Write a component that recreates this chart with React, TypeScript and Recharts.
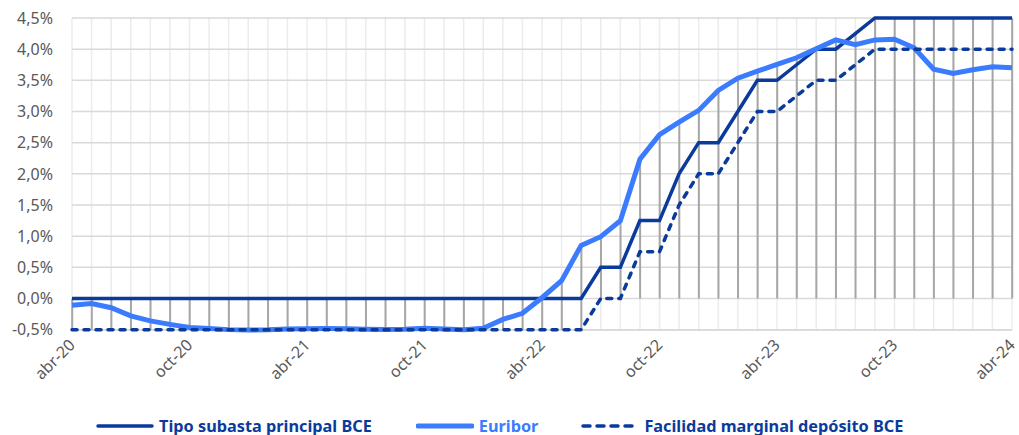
import {
  ComposedChart,
  Line,
  Bar,
  XAxis,
  YAxis,
  CartesianGrid,
  Legend,
} from "recharts";

const months = [
  "abr-20", "may-20", "jun-20", "jul-20", "ago-20", "sep-20", "oct-20", "nov-20", "dic-20",
  "ene-21", "feb-21", "mar-21", "abr-21", "may-21", "jun-21", "jul-21", "ago-21", "sep-21",
  "oct-21", "nov-21", "dic-21", "ene-22", "feb-22", "mar-22", "abr-22", "may-22", "jun-22",
  "jul-22", "ago-22", "sep-22", "oct-22", "nov-22", "dic-22", "ene-23", "feb-23", "mar-23",
  "abr-23", "may-23", "jun-23", "jul-23", "ago-23", "sep-23", "oct-23", "nov-23", "dic-23",
  "ene-24", "feb-24", "mar-24", "abr-24",
];

// Tipo subasta principal BCE
const subasta = [
  0, 0, 0, 0, 0, 0, 0, 0, 0,
  0, 0, 0, 0, 0, 0, 0, 0, 0,
  0, 0, 0, 0, 0, 0, 0, 0, 0,
  0.5, 0.5, 1.25, 1.25, 2.0, 2.5, 2.5, 3.0, 3.5,
  3.5, 3.75, 4.0, 4.0, 4.25, 4.5, 4.5, 4.5, 4.5,
  4.5, 4.5, 4.5, 4.5,
];

const euribor = [
  -0.108, -0.081, -0.147, -0.279, -0.359, -0.415, -0.466, -0.481, -0.499,
  -0.505, -0.501, -0.487, -0.484, -0.481, -0.484, -0.491, -0.498, -0.492,
  -0.477, -0.487, -0.502, -0.477, -0.335, -0.237, 0.013, 0.287, 0.852,
  0.992, 1.249, 2.233, 2.629, 2.828, 3.018, 3.337, 3.534, 3.647,
  3.757, 3.862, 4.007, 4.149, 4.073, 4.149, 4.16, 4.022, 3.679,
  3.609, 3.671, 3.718, 3.703,
];

// Facilidad marginal depósito BCE
const deposito = [
  -0.5, -0.5, -0.5, -0.5, -0.5, -0.5, -0.5, -0.5, -0.5,
  -0.5, -0.5, -0.5, -0.5, -0.5, -0.5, -0.5, -0.5, -0.5,
  -0.5, -0.5, -0.5, -0.5, -0.5, -0.5, -0.5, -0.5, -0.5,
  0, 0, 0.75, 0.75, 1.5, 2.0, 2.0, 2.5, 3.0,
  3.0, 3.25, 3.5, 3.5, 3.75, 4.0, 4.0, 4.0, 4.0,
  4.0, 4.0, 4.0, 4.0,
];

const yTicks = [-0.5, 0, 0.5, 1, 1.5, 2, 2.5, 3, 3.5, 4, 4.5];

const NAVY = "#0a3a9c";
const BLUE = "#3b7cff";
const FONT = "'Noto Sans', 'Open Sans', sans-serif";

const data = months.map((m, i) => {
  const vals = [0, subasta[i], euribor[i], deposito[i]];
  return {
    i,
    month: m,
    sub: subasta[i],
    eur: euribor[i],
    dep: deposito[i],
    hl: [Math.min(...vals), Math.max(...vals)],
  };
});

const fmtPct = (v: number) => `${v.toFixed(1).replace(".", ",")}%`;

function MonthTick(props: any) {
  const { x, y, payload } = props;
  const idx = payload.value;
  if (idx % 6 !== 0) return <g />;
  const ax = x + 4;
  const ay = y + 14;
  return (
    <text
      x={ax}
      y={ay}
      textAnchor="end"
      fill="#595959"
      fontSize={16}
      fontFamily={FONT}
      transform={`rotate(-45, ${ax}, ${ay})`}
    >
      {months[idx]}
    </text>
  );
}

function LegendBox() {
  const item = (label: string, color: string, dashed: boolean, gap: number) => (
    <div style={{ display: "flex", alignItems: "center", marginRight: gap }}>
      <svg width={58} height={8} style={{ marginRight: 5 }}>
        <line
          x1={2}
          y1={4}
          x2={56}
          y2={4}
          stroke={color}
          strokeWidth={color === BLUE ? 5 : 3.5}
          strokeLinecap="round"
          strokeDasharray={dashed ? "7 7" : undefined}
        />
      </svg>
      <span style={{ color, fontWeight: 700, fontSize: 16.3, fontFamily: FONT, lineHeight: "20px" }}>
        {label}
      </span>
    </div>
  );
  return (
    <div
      style={{
        display: "flex",
        justifyContent: "flex-start",
        alignItems: "center",
        height: 25,
        paddingTop: 6,
        paddingLeft: 96,
        boxSizing: "border-box",
        width: 1019,
      }}
    >
      {item("Tipo subasta principal BCE", NAVY, false, 44)}
      {item("Euribor", BLUE, false, 43)}
      {item("Facilidad marginal depósito BCE", NAVY, true, 0)}
    </div>
  );
}

export default function App() {
  return (
    <div style={{ position: "absolute", left: 0, top: 0, width: 1019, height: 435, background: "#fff" }}>
      <ComposedChart
        width={1019}
        height={435}
        data={data}
        margin={{ top: 18, right: 7, left: 0, bottom: 0 }}
      >
        <CartesianGrid horizontal={false} stroke="#ececec" strokeWidth={1.5} />
        <CartesianGrid vertical={false} stroke="#d9d9d9" strokeWidth={1.5} />
        <XAxis
          dataKey="i"
          type="number"
          domain={[0, 48]}
          ticks={data.map((d) => d.i)}
          interval={0}
          tick={<MonthTick />}
          tickLine={false}
          axisLine={false}
          tickSize={0}
          height={80}
        />
        <YAxis
          type="number"
          domain={[-0.5, 4.5]}
          ticks={yTicks}
          tickFormatter={fmtPct}
          tick={{ fill: "#595959", fontSize: 16, fontFamily: FONT }}
          tickLine={false}
          axisLine={false}
          tickSize={0}
          tickMargin={19}
          width={72}
        />
        <Legend verticalAlign="bottom" height={25} content={() => <LegendBox />} wrapperStyle={{ left: 0, width: 1019 }} />
        <Bar dataKey="hl" barSize={2} fill="#a6a6a6" isAnimationActive={false} legendType="none" />
        <Line
          dataKey="sub"
          type="linear"
          stroke={NAVY}
          strokeWidth={3.5}
          dot={false}
          activeDot={false}
          isAnimationActive={false}
        />
        <Line
          dataKey="eur"
          type="linear"
          stroke={BLUE}
          strokeWidth={5}
          dot={false}
          activeDot={false}
          isAnimationActive={false}
        />
        <Line
          dataKey="dep"
          type="linear"
          stroke={NAVY}
          strokeWidth={3.5}
          strokeDasharray="5 7"
          strokeLinecap="round"
          dot={false}
          activeDot={false}
          isAnimationActive={false}
        />
      </ComposedChart>
    </div>
  );
}
